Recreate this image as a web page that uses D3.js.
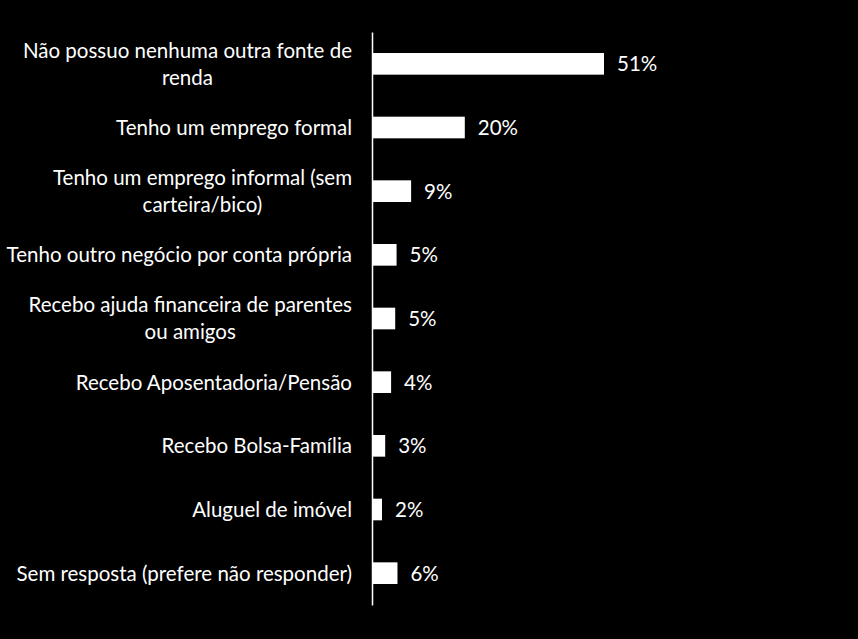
<!DOCTYPE html>
<html>
<head>
<meta charset="utf-8">
<script src="https://cdn.jsdelivr.net/npm/d3@7"></script>
<style>
	html, body { margin: 0; padding: 0; background: #000; }
	svg { display: block; }
	text { font-family: Lato, "Open Sans", sans-serif; fill: #fff; }
</style>
</head>
<body>
<svg id="chart"></svg>
<script>
// -------------- DATA --------------
const categories = [
	["Não possuo nenhuma outra fonte de", "renda"],
	["Tenho um emprego formal"],
	["Tenho um emprego informal (sem", "carteira/bico)"],
	["Tenho outro negócio por conta própria"],
	["Recebo ajuda financeira de parentes", "ou amigos"],
	["Recebo Aposentadoria/Pensão"],
	["Recebo Bolsa-Família"],
	["Aluguel de imóvel"],
	["Sem resposta (prefere não responder)"]
];
const values = [51, 20.4, 8.6, 5.4, 5.1, 4.2, 2.9, 2.2, 5.6];
const valueLabels = ["51%", "20%", "9%", "5%", "5%", "4%", "3%", "2%", "6%"];

const size = { w: 858, h: 639 };
const margin = { l: 372, t: 32, b: 34 };
const fontSize = 20.5;

let svg = d3.select("#chart").attr("width", size.w).attr("height", size.h);

let data = categories.map((c, i) => ({
	id: i,
	lines: c,
	value: values[i],
	label: valueLabels[i]
}));

let xScale = d3
	.scaleLinear()
	.domain([0, 51])
	.range([margin.l, 604]);

let yScale = d3
	.scaleBand()
	.domain(data.map((d) => d.id))
	.range([margin.t, size.h - margin.b])
	.paddingInner(0.66)
	.paddingOuter(0.33);

// bars
svg.append("g")
	.selectAll("rect")
	.data(data)
	.join("rect")
	.attr("x", xScale(0))
	.attr("y", (d) => yScale(d.id))
	.attr("width", (d) => xScale(d.value) - xScale(0))
	.attr("height", yScale.bandwidth())
	.attr("fill", "#fff");

// value labels
svg.append("g")
	.selectAll("text")
	.data(data)
	.join("text")
	.attr("x", (d) => xScale(d.value) + 13)
	.attr("y", (d) => yScale(d.id) + yScale.bandwidth() / 2)
	.attr("dy", "0.36em")
	.style("font-size", fontSize + "px")
	.text((d) => d.label);

// category labels: lines centred on each other, block right aligned
let labelRight = 352;
let labelG = svg.append("g")
	.selectAll("g")
	.data(data)
	.join("g")
	.attr("transform", (d) => `translate(0, ${yScale(d.id) + yScale.bandwidth() / 2})`);

labelG.each(function (d) {
	let g = d3.select(this);
	let n = d.lines.length;
	let texts = g.selectAll("text")
		.data(d.lines)
		.join("text")
		.attr("y", (l, i) => (i - (n - 1) / 2) * 27)
		.attr("dy", "0.36em")
		.style("font-size", fontSize + "px")
		.attr("text-anchor", "middle")
		.text((l) => l);
	let maxW = d3.max(texts.nodes(), (t) => t.getComputedTextLength());
	texts.attr("x", labelRight - maxW / 2);
});

// axis line
let yAxis = d3.axisLeft(yScale).tickSize(0).tickFormat("");
svg.append("g")
	.attr("transform", `translate(${margin.l}, 0)`)
	.call(yAxis)
	.call((g) => g.select(".domain").attr("stroke", "#fff").attr("stroke-width", 1.5));
</script>
</body>
</html>
